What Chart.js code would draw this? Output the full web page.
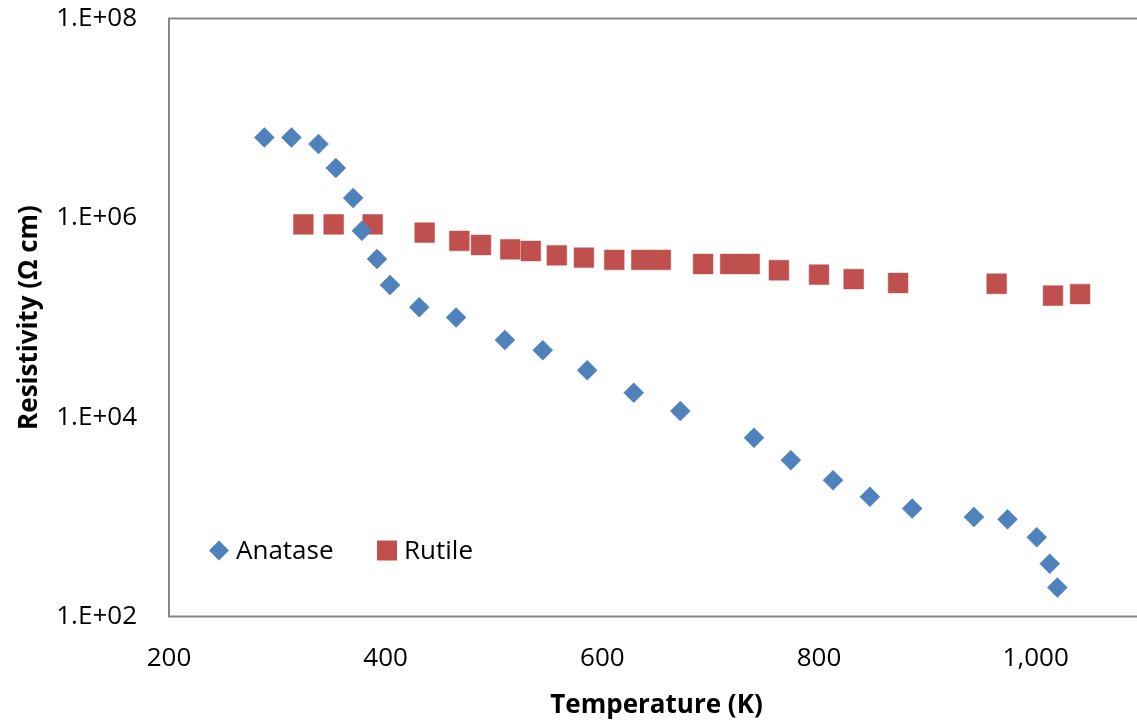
<!DOCTYPE html>
<html lang="en">
<head>
   <meta charset="UTF-8">
   <title>Resistivity vs Temperature</title>
   <style>
      html, body {
         margin: 0;
         padding: 0;
         background: #fff;
         overflow: hidden;
      }
      .chart-wrapper {
         width: 1137px;
         height: 723px;
         overflow: hidden;
      }
      #resistivity {
         display: block;
      }
   </style>
   <script src="https://cdn.jsdelivr.net/npm/chart.js@4/dist/chart.umd.min.js"></script>
</head>
<body>
   <div class="chart-wrapper">
      <canvas id="resistivity" width="1150" height="723"></canvas>
   </div>

   <script>
      // values
      const anataseTemp = [288, 313, 338, 354, 370, 378, 392, 404, 431, 465, 510, 545, 586, 629, 672, 740, 774, 813, 847, 886, 943, 974, 1001, 1013, 1020];
      const anataseRes = [6.4e6, 6.4e6, 5.5e6, 3.16e6, 1.58e6, 7.4e5, 3.86e5, 2.12e5, 1.27e5, 1.0e5, 5.95e4, 4.7e4, 2.95e4, 1.76e4, 1.15e4, 6.2e3, 3.7e3, 2.33e3, 1.59e3, 1.21e3, 996, 945, 624, 339, 195];

      const rutileTemp = [324, 352, 388, 436, 468, 488, 515, 534, 558, 583, 611, 636, 654, 693, 718, 736, 763, 800, 832, 873, 964, 1016, 1041];
      const rutileRes = [8.6e5, 8.6e5, 8.6e5, 7.1e5, 5.86e5, 5.34e5, 4.83e5, 4.65e5, 4.21e5, 3.98e5, 3.78e5, 3.78e5, 3.78e5, 3.44e5, 3.44e5, 3.44e5, 2.98e5, 2.69e5, 2.43e5, 2.22e5, 2.18e5, 1.66e5, 1.72e5];

      const xTickValues = [200, 400, 600, 800, 1000];
      const yTickValues = [1e2, 1e4, 1e6, 1e8];
      const seriesNames = ['Anatase', 'Rutile'];
      const seriesColors = ['#4F81BD', '#C0504D'];

      const toPoints = (xs, ys) => xs.map((x, i) => ({ x: x, y: ys[i] }));

      const fontFamily = '"Open Sans", "Liberation Sans", sans-serif';

      // labels should not push the plot box around
      const noPad = (s) => {
         s.paddingTop = 0;
         s.paddingBottom = 0;
         s.paddingLeft = 0;
         s.paddingRight = 0;
      };

      // plot area frame, like the excel box (right side runs off the picture)
      const frame = {
         id: 'frame',
         beforeDatasetsDraw(chart) {
            const a = chart.chartArea;
            const ctx = chart.ctx;
            ctx.save();
            ctx.strokeStyle = '#878787';
            ctx.lineWidth = 2;
            ctx.strokeRect(a.left, a.top, a.right - a.left, a.bottom - a.top);
            ctx.restore();
         }
      };

      // legend sits inside the plot, bottom left
      const innerLegend = {
         id: 'innerLegend',
         afterDraw(chart) {
            const ctx = chart.ctx;
            const a = chart.chartArea;
            const y = a.bottom - 66;
            const items = [
               { style: 'rectRot', x: a.left + 50, radius: 10 },
               { style: 'rect', x: a.left + 218, radius: 14 }
            ];
            ctx.save();
            ctx.font = '26px ' + fontFamily;
            ctx.textBaseline = 'middle';
            items.forEach((it, i) => {
               const col = chart.data.datasets[i].backgroundColor;
               ctx.fillStyle = col;
               ctx.beginPath();
               if (it.style === 'rectRot') {
                  ctx.moveTo(it.x - it.radius, y);
                  ctx.lineTo(it.x, y - it.radius);
                  ctx.lineTo(it.x + it.radius, y);
                  ctx.lineTo(it.x, y + it.radius);
               } else {
                  ctx.rect(it.x - 10, y - 10, 20, 20);
               }
               ctx.closePath();
               ctx.fill();
               ctx.fillStyle = '#000';
               ctx.fillText(chart.data.datasets[i].label, it.x + 17, y + 1);
            });
            ctx.restore();
         }
      };

      const ctx = document.getElementById('resistivity').getContext('2d');
      const chart = new Chart(ctx, {
         type: 'scatter',
         data: {
            datasets: [
               {
                  label: seriesNames[0],
                  data: toPoints(anataseTemp, anataseRes),
                  pointStyle: 'rectRot',
                  pointRadius: 10,
                  pointHoverRadius: 10,
                  backgroundColor: seriesColors[0],
                  borderColor: seriesColors[0],
                  borderWidth: 0.5
               },
               {
                  label: seriesNames[1],
                  data: toPoints(rutileTemp, rutileRes),
                  pointStyle: 'rect',
                  pointRadius: 14,
                  pointHoverRadius: 14,
                  backgroundColor: seriesColors[1],
                  borderColor: seriesColors[1],
                  borderWidth: 0.5
               }
            ]
         },
         plugins: [frame, innerLegend],
         options: {
            responsive: false,
            devicePixelRatio: 1,
            animation: false,
            layout: {
               autoPadding: false,
               padding: { top: 18.5, right: 6, bottom: 0, left: 0 }
            },
            plugins: {
               legend: { display: false },
               tooltip: { enabled: false }
            },
            scales: {
               x: {
                  type: 'linear',
                  min: 200,
                  max: 1100,
                  grid: { display: false, drawTicks: false },
                  border: { display: false },
                  afterFit: (s) => { s.height = 106.5; noPad(s); },
                  afterBuildTicks: (s) => {
                     s.ticks = xTickValues.map(v => ({ value: v }));
                  },
                  ticks: {
                     padding: 26,
                     color: '#000',
                     font: { family: fontFamily, size: 26 },
                     callback: (v) => v.toLocaleString('en-US')
                  },
                  title: {
                     display: true,
                     text: 'Temperature (K)',
                     color: '#000',
                     padding: { top: 0, bottom: 2 },
                     font: { family: fontFamily, size: 26, weight: 'bold' }
                  }
               },
               y: {
                  type: 'logarithmic',
                  min: 1e2,
                  max: 1e8,
                  grid: { display: false, drawTicks: false },
                  border: { display: false },
                  afterFit: (s) => { s.width = 169; noPad(s); },
                  afterBuildTicks: (s) => {
                     s.ticks = yTickValues.map(v => ({ value: v }));
                  },
                  ticks: {
                     padding: 32,
                     color: '#000',
                     font: { family: fontFamily, size: 26 },
                     callback: (v) => '1.E+' + String(Math.round(Math.log10(v))).padStart(2, '0')
                  },
                  title: {
                     display: true,
                     text: 'Resistivity (\u03A9 cm)',
                     color: '#000',
                     padding: { top: 14, bottom: 0 },
                     font: { family: fontFamily, size: 26, weight: 'bold' }
                  }
               }
            }
         }
      });
   </script>
</body>
</html>
